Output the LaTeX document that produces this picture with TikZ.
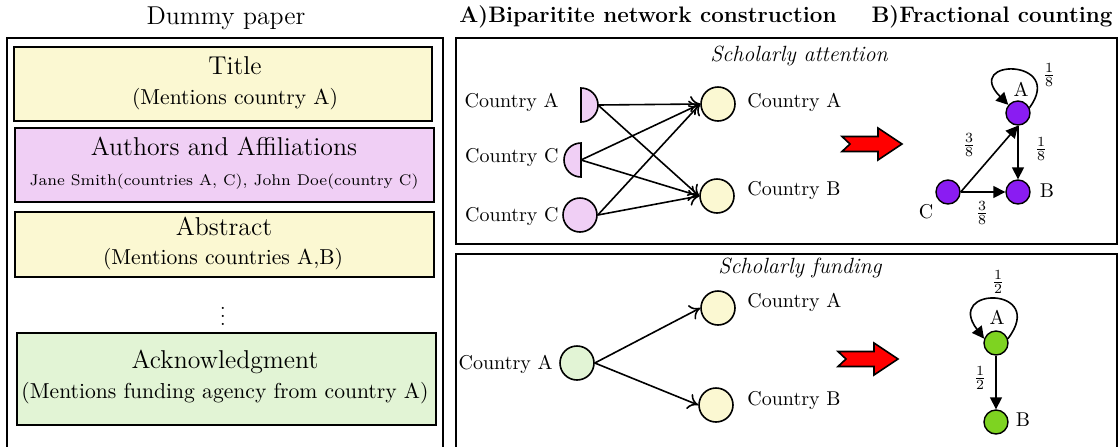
\documentclass[tikz,border=0pt]{standalone}
\usetikzlibrary{arrows.meta}
\definecolor{ylw}{HTML}{FBF8D2}
\definecolor{pnk}{HTML}{F0CFF5}
\definecolor{grn}{HTML}{E2F4D5}
\definecolor{purp}{HTML}{8A1CF2}
\definecolor{limeg}{HTML}{7ED321}
\definecolor{redarr}{HTML}{FF0000}
\begin{document}
\begin{tikzpicture}[x=0.5pt,y=-0.5pt,
  panel/.style={draw, line width=0.9pt},
  secbox/.style={draw, line width=1pt, inner sep=0pt},
  bigt/.style={font=\fontsize{12.9}{15}\selectfont, inner sep=0pt},
  subt/.style={font=\fontsize{10.8}{13}\selectfont, inner sep=0pt},
  hdr/.style={font=\fontsize{11.2}{13}\selectfont\bfseries, inner sep=0pt},
  lbl/.style={font=\fontsize{10}{12}\selectfont, inner sep=0pt},
  ital/.style={font=\fontsize{11}{13}\selectfont\itshape, inner sep=0pt},
  cnode/.style={circle, draw, line width=0.8pt, minimum size=17pt, inner sep=0pt},
  gnode/.style={circle, draw, line width=0.7pt, minimum size=12pt, inner sep=0pt},
  halfc/.style={draw, line width=0.8pt, fill=pnk},
  barrow/.style={-{To[length=5pt,width=8pt]}, line width=0.8pt},
  farrow/.style={-{Triangle[length=6pt,width=6pt]}, line width=0.8pt},
  fracl/.style={font=\fontsize{10}{12}\selectfont, inner sep=0pt},
  redarrow/.pic={\draw[line width=0.8pt, fill=redarr] (0,-7.5) -- (36,-7.5) -- (36,-16) -- (60,0) -- (36,16) -- (36,7.5) -- (0,7.5) -- (8,0) -- cycle;}
]
\useasboundingbox (0,0) rectangle (1120,446);
\clip (0,0) rectangle (1120,446);

% panels
\draw[panel] (7,38) rectangle (443,470);
\draw[panel] (456,38) rectangle (1117,244);
\draw[panel] (456,254) rectangle (1117,470);

% headings
\node[bigt] (dummy) at (226,18) {Dummy paper};
\node[hdr] (hA) at (648,17) {A)Biparitite network construction};
\node[hdr] (hB) at (992,17) {B)Fractional counting};

% paper sections
\node[secbox, fill=ylw, minimum width=209pt, minimum height=37pt] (titleBox) at (223,84) {};
\node[bigt] (titleT) at (235,66) {Title};
\node[subt] (titleS) at (235,99) {(Mentions country A)};

\node[secbox, fill=pnk, minimum width=209.5pt, minimum height=37pt] (authBox) at (224.5,165) {};
\node[bigt] (authT) at (224,146) {Authors and Affiliations};
\node[inner sep=0pt] (authS) at (224,182) {\scalebox{1.19}{\fontsize{6.5}{8}\selectfont Jane Smith(countries A, C), John Doe(country C)}};

\node[secbox, fill=ylw, minimum width=209.5pt, minimum height=32.5pt] (absBox) at (224.5,244.5) {};
\node[bigt] (absT) at (224,226) {Abstract};
\node[subt] (absS) at (223,259) {(Mentions countries A,B)};

\node[lbl] (dots) at (223,310) {$\vdots$};

\node[secbox, fill=grn, minimum width=209.5pt, minimum height=46pt] (ackBox) at (226.5,379) {};
\node[bigt] (ackT) at (225,362) {Acknowledgment};
\node[subt] (ackS) at (225,393) {(Mentions funding agency from country A)};

% scholarly attention
\node[ital] (attT) at (799,56) {Scholarly attention};
\draw[halfc] (581,88) arc[start angle=-90, end angle=90, radius=17] -- cycle;
\draw[halfc] (581,143) arc[start angle=-90, end angle=-270, radius=17] -- cycle;
\coordinate (sA) at (598,105);
\coordinate (sC) at (581,160);
\node[cnode, fill=pnk] (sC2) at (580,215) {};
\node[cnode, fill=ylw] (tA) at (718,104) {};
\node[cnode, fill=ylw] (tB) at (717,196) {};
\node[lbl, anchor=east] (lsA) at (559,102) {Country A};
\node[lbl, anchor=east] (lsC) at (559,157) {Country C};
\node[lbl, anchor=east] (lsC2) at (559,216) {Country C};
\node[lbl, anchor=west] (ltA) at (747,102) {Country A};
\node[lbl, anchor=west] (ltB) at (747,190) {Country B};
\draw[barrow] (sA) -- (tA.west);
\draw[barrow] (sA) -- (tB.west);
\draw[barrow] (sC) -- (tA.west);
\draw[barrow] (sC) -- (tB.west);
\draw[barrow] (sC2.east) -- (tA.west);
\draw[barrow] (sC2.east) -- (tB.west);

\pic at (842,144) {redarrow};

\node[gnode, fill=purp] (pA) at (1018,113) {};
\node[gnode, fill=purp] (pB) at (1018,192) {};
\node[gnode, fill=purp] (pC) at (948,192) {};
\node[lbl] (pAl) at (1021,89) {A};
\node[lbl] (pBl) at (1047,191) {B};
\node[lbl] (pCl) at (926,212) {C};
\draw[farrow] (pC.east) -- (pA.south);
\draw[farrow] (pC.east) -- (pB.west);
\draw[farrow] (pA.south) -- (pB.north);
\draw[farrow] (pA.25) .. controls (1066,58) and (962,58) .. (pA.140);
\node[fracl] (f1) at (969,145) {$\frac{3}{8}$};
\node[fracl] (f2) at (982,213) {$\frac{3}{8}$};
\node[fracl] (f3) at (1041,149) {$\frac{1}{8}$};
\node[fracl] (f4) at (1049,75) {$\frac{1}{8}$};

% scholarly funding
\node[ital] (funT) at (800,268) {Scholarly funding};
\node[cnode, fill=grn] (fA) at (577,363) {};
\node[cnode, fill=ylw] (tA2) at (718,308) {};
\node[cnode, fill=ylw] (tB2) at (716,405) {};
\node[lbl, anchor=east] (lfA) at (553,364) {Country A};
\node[lbl, anchor=west] (ltA2) at (747,302) {Country A};
\node[lbl, anchor=west] (ltB2) at (747,400) {Country B};
\draw[barrow] (fA.east) -- (tA2.west);
\draw[barrow] (fA.east) -- (tB2.west);

\pic at (838,359) {redarrow};

\node[gnode, fill=limeg] (gA) at (996,343) {};
\node[gnode, fill=limeg] (gB) at (996,422) {};
\node[lbl] (gAl) at (997,317) {A};
\node[lbl] (gBl) at (1023,420) {B};
\draw[farrow] (gA.south) -- (gB.north);
\draw[farrow] (gA.20) .. controls (1048,286) and (944,286) .. (gA.160);
\node[fracl] (f5) at (998,282) {$\frac{1}{2}$};
\node[fracl] (f6) at (980,378) {$\frac{1}{2}$};
\end{tikzpicture}
\end{document}
